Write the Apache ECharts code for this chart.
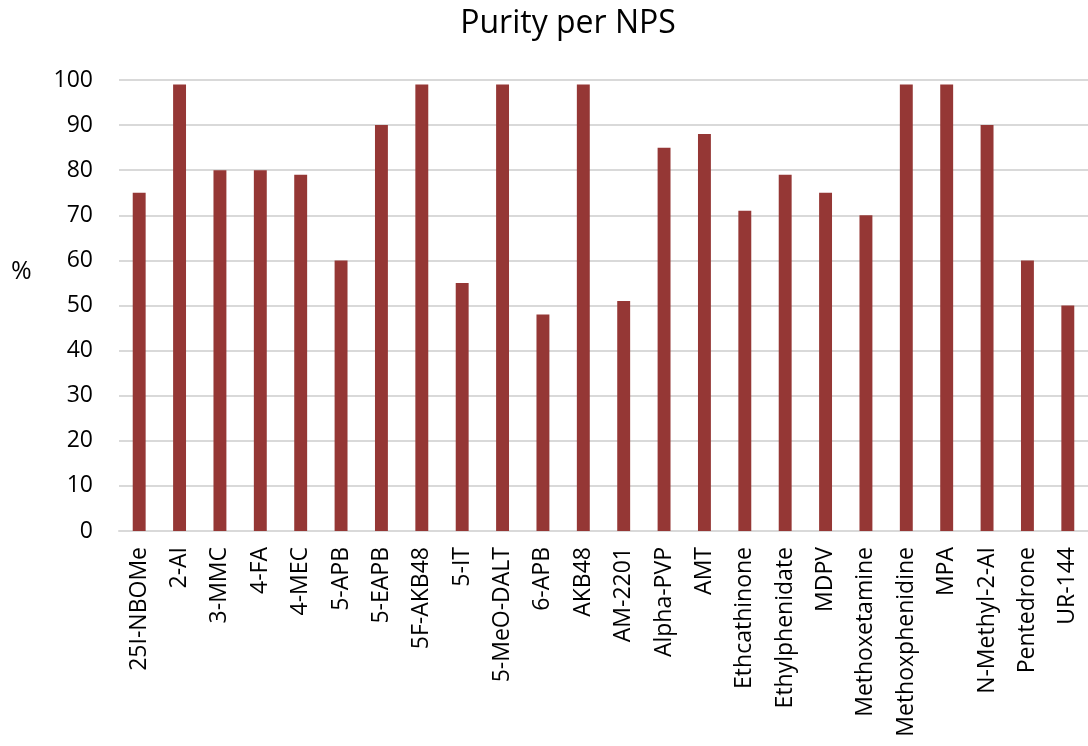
<!DOCTYPE html>
<html><head><meta charset="utf-8">
<script src="https://cdn.jsdelivr.net/npm/echarts@6/dist/echarts.min.js"></script>
<style>html,body{margin:0;padding:0;background:#fff}#c{width:1088px;height:746px}</style>
</head><body><div id="c"></div>
<script>
const categories = ["25I-NBOMe","2-AI","3-MMC","4-FA","4-MEC","5-APB","5-EAPB","5F-AKB48","5-IT","5-MeO-DALT","6-APB","AKB48","AM-2201","Alpha-PVP","AMT","Ethcathinone","Ethylphenidate","MDPV","Methoxetamine","Methoxphenidine","MPA","N-Methyl-2-AI","Pentedrone","UR-144"];
const purity = [75,99,80,80,79,60,90,99,55,99,48,99,51,85,88,71,79,75,70,99,99,90,60,50];
const yTicks = [0,10,20,30,40,50,60,70,80,90,100];
const font = "'Open Sans', sans-serif";
const chart = echarts.init(document.getElementById('c'));
chart.setOption({
  animation:false,
  title:{text:'Purity per NPS',left:563,top:3,textAlign:'center',textStyle:{fontFamily:font,fontSize:32,fontWeight:'normal',color:'#000'}},
  graphic:[{type:'text',left:11,top:259,style:{text:'%',font:"25px 'Open Sans', sans-serif",fill:'#000'}}],
  grid:{left:119,top:80,width:977,height:451,containLabel:false},
  xAxis:{type:'category',data:categories,axisTick:{show:false},axisLine:{lineStyle:{color:'#d9d9d9',width:2}},
    axisLabel:{rotate:90,interval:0,fontFamily:font,fontSize:23,color:'#000',margin:16}},
  yAxis:{type:'value',min:yTicks[0],max:yTicks[yTicks.length-1],interval:10,
    axisLine:{show:false},axisTick:{show:false},
    splitLine:{lineStyle:{color:'#d9d9d9',width:2}},
    axisLabel:{fontFamily:font,fontSize:23,color:'#000',margin:26}},
  series:[{type:'bar',data:purity,barWidth:'32%',itemStyle:{color:'#953735'}}]
});
</script></body></html>
